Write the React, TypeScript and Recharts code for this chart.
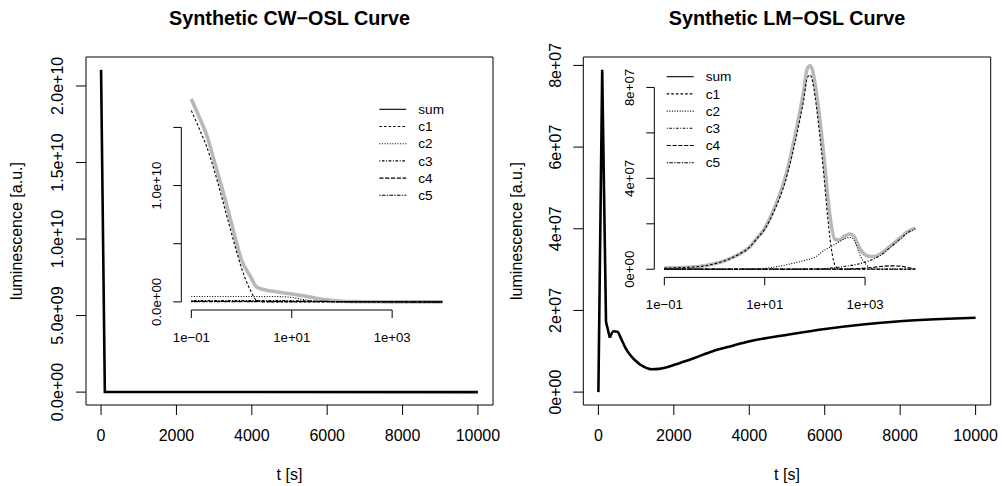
import React from "react";
import { LineChart, Line, XAxis, YAxis, ReferenceArea, ReferenceLine } from "recharts";

const FONT = '"Liberation Sans", Arial, Helvetica, sans-serif';

// ---------- main panels (t in s)
const CW_TIME = [0, 100, 10000];
const CW_SUM = [2.105e10, 1.0e7, 0];

const LM_TIME = [0, 101, 202, 303, 404, 505, 606, 707, 808, 909, 1010, 1111, 1212, 1313, 1414, 1616, 1818, 2020, 2525, 3030, 3535, 4040, 5051, 6061, 7071, 8081, 9091, 10000];
// x 1e7
const LM_SUM = [0, 7.89, 1.72, 1.33, 1.49, 1.48, 1.3, 1.1, 0.95, 0.84, 0.75, 0.67, 0.62, 0.58, 0.56, 0.57, 0.61, 0.67, 0.83, 1.0, 1.13, 1.25, 1.41, 1.55, 1.66, 1.74, 1.79, 1.82];
const LM_SPIKE_END = 3; // spike drawn with straight segments up to t = 303 s

// ---------- CW inset (log t), x 1e10
const CW_IN_TIME = [0.1, 0.15, 0.2, 0.3, 0.5, 0.7, 1, 1.5, 2, 3, 5, 7, 10, 15, 20, 30, 50, 100, 200, 500, 1000, 10000];
const CW_IN_SUM = [1.745, 1.57, 1.44, 1.18, 0.84, 0.6, 0.36, 0.22, 0.128, 0.103, 0.087, 0.077, 0.068, 0.056, 0.047, 0.032, 0.017, 0.006, 0.002, 0.0005, 0.0002, 0];
const CW_IN_C1 = [1.645, 1.47, 1.34, 1.1, 0.75, 0.52, 0.29, 0.1, 0.015, 0, 0, 0, 0, 0, 0, 0, 0, 0, 0, 0, 0, 0];
const CW_IN_C2 = [0.046, 0.046, 0.046, 0.046, 0.046, 0.046, 0.046, 0.046, 0.046, 0.046, 0.046, 0.044, 0.038, 0.025, 0.015, 0.005, 0.001, 0, 0, 0, 0, 0];
const CW_IN_C3 = [0.012, 0.012, 0.012, 0.012, 0.012, 0.012, 0.012, 0.012, 0.012, 0.012, 0.012, 0.011, 0.01, 0.009, 0.008, 0.006, 0.004, 0.002, 0.001, 0, 0, 0];
const CW_IN_C4 = [0.004, 0.004, 0.004, 0.004, 0.004, 0.004, 0.004, 0.004, 0.004, 0.004, 0.004, 0.004, 0.004, 0.004, 0.004, 0.004, 0.004, 0.003, 0.002, 0.001, 0, 0];
const CW_IN_C5 = [0.002, 0.002, 0.002, 0.002, 0.002, 0.002, 0.002, 0.002, 0.002, 0.002, 0.002, 0.002, 0.002, 0.002, 0.002, 0.002, 0.002, 0.002, 0.002, 0.002, 0.001, 0];

// ---------- LM inset (log t), x 1e7
const LM_IN_TIME = [0.1, 0.2, 0.5, 1, 2, 3, 5, 7, 10, 15, 20, 25, 30, 40, 50, 60, 70, 80, 90, 100, 120, 150, 180, 200, 250, 300, 400, 500, 600, 700, 800, 1000, 1200, 1500, 2000, 3000, 5000, 7000, 10000];
const LM_IN_SUM = [0.05, 0.07, 0.12, 0.24, 0.46, 0.65, 0.98, 1.37, 1.8, 2.6, 3.3, 3.95, 4.6, 5.85, 6.9, 7.85, 8.8, 8.95, 8.75, 8.2, 6.93, 5.05, 3.21, 2.33, 1.32, 1.28, 1.47, 1.55, 1.45, 1.15, 0.88, 0.64, 0.575, 0.56, 0.67, 0.97, 1.38, 1.65, 1.81];
const LM_IN_C1 = [0.05, 0.07, 0.12, 0.24, 0.46, 0.65, 0.97, 1.35, 1.76, 2.51, 3.16, 3.77, 4.4, 5.57, 6.57, 7.47, 8.4, 8.55, 8.25, 7.65, 6.25, 4.21, 2.28, 1.35, 0.2, 0.02, 0, 0, 0, 0, 0, 0, 0, 0, 0, 0, 0, 0, 0];
const LM_IN_C2 = [0, 0, 0, 0, 0, 0, 0.01, 0.02, 0.04, 0.09, 0.14, 0.18, 0.22, 0.28, 0.33, 0.38, 0.42, 0.45, 0.49, 0.53, 0.65, 0.82, 0.92, 0.97, 1.1, 1.2, 1.35, 1.4, 1.28, 0.95, 0.6, 0.27, 0.08, 0.01, 0, 0, 0, 0, 0];
const LM_IN_C3 = [0.003, 0.003, 0.003, 0.003, 0.003, 0.003, 0.003, 0.003, 0.003, 0.003, 0.003, 0.003, 0.003, 0.003, 0.004, 0.005, 0.006, 0.007, 0.008, 0.01, 0.02, 0.03, 0.04, 0.05, 0.07, 0.09, 0.13, 0.16, 0.19, 0.22, 0.25, 0.31, 0.37, 0.46, 0.6, 0.92, 1.33, 1.6, 1.78];
const LM_IN_C4 = [0.005, 0.005, 0.005, 0.005, 0.005, 0.005, 0.005, 0.005, 0.005, 0.005, 0.005, 0.005, 0.005, 0.005, 0.005, 0.005, 0.005, 0.005, 0.005, 0.005, 0.005, 0.005, 0.005, 0.005, 0.005, 0.005, 0.01, 0.015, 0.02, 0.03, 0.035, 0.05, 0.07, 0.09, 0.12, 0.15, 0.14, 0.08, 0.02];
const LM_IN_C5 = [0.008, 0.008, 0.008, 0.008, 0.008, 0.008, 0.008, 0.008, 0.008, 0.008, 0.008, 0.008, 0.008, 0.008, 0.008, 0.008, 0.008, 0.008, 0.008, 0.008, 0.008, 0.008, 0.008, 0.008, 0.008, 0.008, 0.008, 0.008, 0.009, 0.009, 0.01, 0.01, 0.011, 0.012, 0.012, 0.013, 0.012, 0.01, 0.008];

// ---------- ticks / labels
const MAIN_X_TICKS = [0, 2000, 4000, 6000, 8000, 10000];
const CW_Y_TICKS = [0, 5e9, 1e10, 1.5e10, 2e10];
const LM_Y_TICKS = [0, 2e7, 4e7, 6e7, 8e7];
const INSET_X_TICKS = [0.1, 10, 1000];
const CW_INSET_Y_TICKS = [0, 5e9, 1e10, 1.5e10];
const CW_INSET_Y_LABELS = [0, 1e10];
const LM_INSET_Y_TICKS = [0, 2e7, 4e7, 6e7, 8e7];
const LM_INSET_Y_LABELS = [0, 4e7, 8e7];
const LEGEND_LABELS = ["sum", "c1", "c2", "c3", "c4", "c5"];
const COMPONENT_DASH = ["2.6 2", "1 1.6", "1 1.6 2.6 1.6", "4.2 1.6", "1.3 1.3 3.6 1.3"];

const fmtE = (v: number, digits: number) => {
  const [m, e] = v.toExponential(digits).split("e");
  const n = Number(e);
  return `${m}e${n < 0 ? "\u2212" : "+"}${String(Math.abs(n)).padStart(2, "0")}`;
};

const pad = (lo: number, hi: number): [number, number] => [lo - 0.04 * (hi - lo), hi + 0.04 * (hi - lo)];
const LOG_DOMAIN: [number, number] = [Math.pow(10, -1.2), Math.pow(10, 4.2)];

type Row = Record<string, number>;
type Series = { id: string; key: string; stroke: string; width: number; dash?: string; curve: "linear" | "monotone"; data?: Row[] };

const buildRows = (t: number[], cols: Record<string, number[]>, scale: number) =>
  t.map((v, i) => {
    const r: Row = { t: v };
    Object.keys(cols).forEach((k) => (r[k] = cols[k][i] * scale));
    return r;
  });

const cwRows = buildRows(CW_TIME, { sum: CW_SUM }, 1);
const lmRows = buildRows(LM_TIME, { sum: LM_SUM }, 1e7);
const cwInRows = buildRows(CW_IN_TIME, { sum: CW_IN_SUM, c1: CW_IN_C1, c2: CW_IN_C2, c3: CW_IN_C3, c4: CW_IN_C4, c5: CW_IN_C5 }, 1e10);
const lmInRows = buildRows(LM_IN_TIME, { sum: LM_IN_SUM, c1: LM_IN_C1, c2: LM_IN_C2, c3: LM_IN_C3, c4: LM_IN_C4, c5: LM_IN_C5 }, 1e7);

const CW_SERIES: Series[] = [{ id: "sum", key: "sum", stroke: "#000", width: 2.6, curve: "linear" }];
const LM_SERIES: Series[] = [
  { id: "spike", key: "sum", stroke: "#000", width: 2.6, curve: "linear", data: lmRows.slice(0, LM_SPIKE_END + 1) },
  { id: "tail", key: "sum", stroke: "#000", width: 2.6, curve: "monotone", data: lmRows.slice(LM_SPIKE_END) },
];
const INSET_SERIES: Series[] = [
  { id: "sum", key: "sum", stroke: "#b8b8b8", width: 3.6, curve: "monotone" },
  ...COMPONENT_DASH.map((d, i): Series => ({ id: `c${i + 1}`, key: `c${i + 1}`, stroke: "#000", width: 1.1, dash: d, curve: "monotone" })),
];

type PanelProps = {
  left: number; top: number; width: number; height: number;
  margin: { top: number; right: number; bottom: number; left: number };
  rows: Row[]; series: Series[];
  xDomain: [number, number]; xTicks: number[]; log?: boolean; xFmt: (v: number) => string;
  yDomain: [number, number]; yTicks: number[]; yLabels: number[]; yFmt: (v: number) => string;
  fontSize: number; tickSize: number; xLabelDy: number; yLabelDx: number; box?: boolean;
};

function Panel(p: PanelProps) {
  const xTick = (t: any) => (
    <text x={t.x} y={t.y + p.xLabelDy} textAnchor="middle" fontSize={p.fontSize} fontFamily={FONT} fill="#000">
      {p.xFmt(t.payload.value)}
    </text>
  );
  const yTick = (t: any) => {
    const v = t.payload.value;
    if (!p.yLabels.includes(v)) return <g />;
    const bx = t.x + p.yLabelDx;
    return (
      <text x={bx} y={t.y} transform={`rotate(-90 ${bx} ${t.y})`} textAnchor="middle" fontSize={p.fontSize} fontFamily={FONT} fill="#000">
        {p.yFmt(v)}
      </text>
    );
  };
  return (
    <div style={{ position: "absolute", left: p.left, top: p.top }}>
      <LineChart width={p.width} height={p.height} data={p.rows} margin={p.margin}>
        <XAxis
          dataKey="t" type="number" scale={p.log ? "log" : "auto"} domain={p.xDomain} allowDataOverflow
          ticks={p.xTicks} interval={0} height={30} axisLine={false} tickSize={p.tickSize}
          stroke="#000" tickLine={{ stroke: "#000" }} tick={xTick}
        />
        <YAxis
          type="number" domain={p.yDomain} allowDataOverflow ticks={p.yTicks} interval={0} width={40}
          axisLine={false} tickSize={p.tickSize} stroke="#000" tickLine={{ stroke: "#000" }} tick={yTick}
        />
        {p.box ? (
          <ReferenceArea x1={p.xDomain[0]} x2={p.xDomain[1]} y1={p.yDomain[0]} y2={p.yDomain[1]} fill="none" fillOpacity={0} stroke="#000" strokeWidth={1} ifOverflow="visible" />
        ) : (
          <>
            <ReferenceLine segment={[{ x: p.xTicks[0], y: p.yDomain[0] }, { x: p.xTicks[p.xTicks.length - 1], y: p.yDomain[0] }]} stroke="#000" strokeWidth={1} ifOverflow="visible" />
            <ReferenceLine segment={[{ x: p.xDomain[0], y: p.yTicks[0] }, { x: p.xDomain[0], y: p.yTicks[p.yTicks.length - 1] }]} stroke="#000" strokeWidth={1} ifOverflow="visible" />
          </>
        )}
        {p.series.map((s) => (
          <Line
            key={s.id} data={s.data} dataKey={s.key} type={s.curve} stroke={s.stroke} strokeWidth={s.width}
            strokeDasharray={s.dash} dot={false} activeDot={false} isAnimationActive={false}
          />
        ))}
      </LineChart>
    </div>
  );
}

function Legend({ x, y }: { x: number; y: number }) {
  return (
    <g>
      {LEGEND_LABELS.map((lab, i) => {
        const yy = y + i * 17.2;
        return (
          <g key={lab}>
            <line x1={x} x2={x + 27} y1={yy} y2={yy} stroke="#000" strokeWidth={1.1} strokeDasharray={i === 0 ? undefined : COMPONENT_DASH[i - 1]} />
            <text x={x + 39} y={yy + 4.6} fontSize={13.6} fontFamily={FONT} fill="#000">{lab}</text>
          </g>
        );
      })}
    </g>
  );
}

export default function App() {
  const cwMax = Math.max(...CW_SUM);
  const lmMax = Math.max(...LM_SUM) * 1e7;
  const cwInMax = Math.max(...CW_IN_SUM) * 1e10;
  const lmInMax = Math.max(...LM_IN_SUM) * 1e7;
  const mainX = pad(0, 10000);
  return (
    <div style={{ position: "absolute", left: 0, top: 0, width: 1002, height: 486, background: "#fff", fontFamily: FONT }}>
      <Panel
        left={0} top={0} width={500} height={486} margin={{ top: 57, right: 7, bottom: 51, left: 46 }}
        rows={cwRows} series={CW_SERIES} xDomain={mainX} xTicks={MAIN_X_TICKS} xFmt={(v) => String(v)}
        yDomain={pad(0, cwMax)} yTicks={CW_Y_TICKS} yLabels={CW_Y_TICKS} yFmt={(v) => fmtE(v, 1)}
        fontSize={16} tickSize={10} xLabelDy={24} yLabelDx={-10.5} box
      />
      <Panel
        left={500} top={0} width={502} height={486} margin={{ top: 57, right: 11.3, bottom: 51, left: 43.3 }}
        rows={lmRows} series={LM_SERIES} xDomain={mainX} xTicks={MAIN_X_TICKS} xFmt={(v) => String(v)}
        yDomain={pad(0, lmMax)} yTicks={LM_Y_TICKS} yLabels={LM_Y_TICKS} yFmt={(v) => fmtE(v, 0)}
        fontSize={16} tickSize={10} xLabelDy={24} yLabelDx={-10.5} box
      />
      <Panel
        left={100} top={60} width={370} height={300} margin={{ top: 30.8, right: 17.6, bottom: 20, left: 41.3 }}
        rows={cwInRows} series={INSET_SERIES} xDomain={LOG_DOMAIN} xTicks={INSET_X_TICKS} log xFmt={(v) => fmtE(v, 0)}
        yDomain={pad(0, cwInMax)} yTicks={CW_INSET_Y_TICKS} yLabels={CW_INSET_Y_LABELS} yFmt={(v) => fmtE(v, 1)}
        fontSize={13.2} tickSize={8} xLabelDy={21.8} yLabelDx={-10.5}
      />
      <Panel
        left={580} top={40} width={370} height={300} margin={{ top: 17.7, right: 24.7, bottom: 32.6, left: 34.3 }}
        rows={lmInRows} series={INSET_SERIES} xDomain={LOG_DOMAIN} xTicks={INSET_X_TICKS} log xFmt={(v) => fmtE(v, 0)}
        yDomain={pad(0, lmInMax)} yTicks={LM_INSET_Y_TICKS} yLabels={LM_INSET_Y_LABELS} yFmt={(v) => fmtE(v, 0)}
        fontSize={13.2} tickSize={8} xLabelDy={21.8} yLabelDx={-10.5}
      />
      <svg width={1002} height={486} style={{ position: "absolute", left: 0, top: 0, pointerEvents: "none" }}>
        <g fontFamily={FONT} fill="#000">
          <text x={289.5} y={24.6} textAnchor="middle" fontSize={19.8} fontWeight="bold">Synthetic CW{"\u2212"}OSL Curve</text>
          <text x={787} y={24.6} textAnchor="middle" fontSize={19.8} fontWeight="bold">Synthetic LM{"\u2212"}OSL Curve</text>
          <text x={289.5} y={479.5} textAnchor="middle" fontSize={16}>t [s]</text>
          <text x={787} y={479.5} textAnchor="middle" fontSize={16}>t [s]</text>
          <text x={21.6} y={231} transform="rotate(-90 21.6 231)" textAnchor="middle" fontSize={16}>luminescence [a.u.]</text>
          <text x={521.6} y={231} transform="rotate(-90 521.6 231)" textAnchor="middle" fontSize={16}>luminescence [a.u.]</text>
        </g>
        <Legend x={379.3} y={109.3} />
        <Legend x={666.7} y={76.7} />
      </svg>
    </div>
  );
}
